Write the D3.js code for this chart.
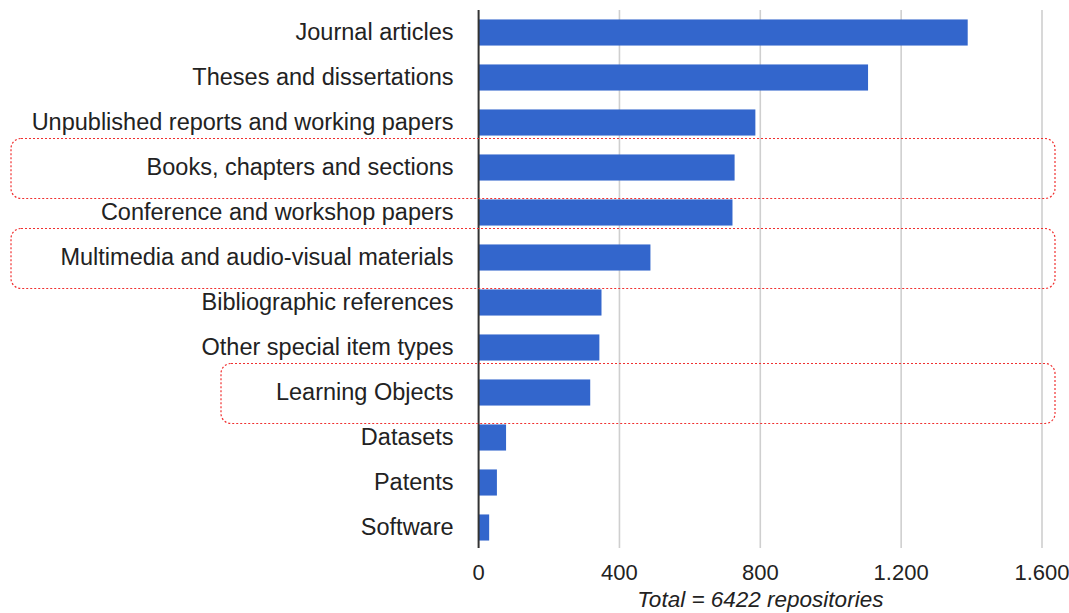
<!DOCTYPE html>
<html lang="en">
<head>
  <meta charset="UTF-8">
  <title>Item types</title>
  <script src="https://d3js.org/d3.v7.min.js"></script>
  <style>
    body { margin: 0; background: #fff; }
    text { font-family: "Liberation Sans", Arial, sans-serif; fill: #222; }
  </style>
</head>
<body>
  <div id="chart"></div>

  <script>
    const categories = [
      "Journal articles",
      "Theses and dissertations",
      "Unpublished reports and working papers",
      "Books, chapters and sections",
      "Conference and workshop papers",
      "Multimedia and audio-visual materials",
      "Bibliographic references",
      "Other special item types",
      "Learning Objects",
      "Datasets",
      "Patents",
      "Software"
    ];
    const counts = [1389, 1106, 786, 727, 721, 488, 349, 343, 317, 78, 52, 30];
    const tickValues = [0, 400, 800, 1200, 1600];
    const axisTitle = "Total = 6422 repositories";
    // highlighted rows (dotted boxes) and where each box starts on the left
    const highlighted = ["Books, chapters and sections", "Multimedia and audio-visual materials", "Learning Objects"];
    const highlightLeft = [11, 11, 221];

    const width = 1069, height = 613;
    const margin = { top: 10, right: 27, bottom: 63, left: 478.6 };

    const svg = d3.select("#chart").append("svg")
      .attr("width", width)
      .attr("height", height);

    const x = d3.scaleLinear()
      .domain([0, 1600])
      .range([margin.left, width - margin.right]);

    const y = d3.scaleBand()
      .domain(categories)
      .range([margin.top, height - margin.bottom])
      .paddingInner(0.42)
      .paddingOuter(0.21);

    const fmt = d3.formatLocale({ decimal: ",", thousands: ".", grouping: [3], currency: ["", ""] }).format(",d");

    // gridlines
    svg.selectAll(".grid")
      .data(tickValues.slice(1))
      .enter()
      .append("line")
      .attr("x1", d => x(d))
      .attr("x2", d => x(d))
      .attr("y1", margin.top)
      .attr("y2", height - margin.bottom - 2)
      .attr("stroke", "#cfcfcf")
      .attr("stroke-width", 1.6);

    // bars
    svg.selectAll(".bar")
      .data(categories)
      .enter()
      .append("rect")
      .attr("x", x(0))
      .attr("y", d => y(d))
      .attr("width", (d, i) => x(counts[i]) - x(0))
      .attr("height", y.bandwidth())
      .attr("fill", "#3366cc");

    // baseline
    svg.append("line")
      .attr("x1", x(0))
      .attr("x2", x(0))
      .attr("y1", margin.top)
      .attr("y2", height - margin.bottom - 2)
      .attr("stroke", "#333")
      .attr("stroke-width", 2);

    // category labels
    svg.selectAll(".cat")
      .data(categories)
      .enter()
      .append("text")
      .attr("x", x(0) - 25)
      .attr("y", d => y(d) + y.bandwidth() / 2)
      .attr("dy", "0.33em")
      .attr("text-anchor", "end")
      .attr("font-size", "23.5px")
      .text(d => d);

    // tick labels
    svg.selectAll(".tick-label")
      .data(tickValues)
      .enter()
      .append("text")
      .attr("x", d => x(d))
      .attr("y", 580)
      .attr("text-anchor", "middle")
      .attr("font-size", "22px")
      .attr("fill", "#444")
      .text(d => fmt(d));

    svg.append("text")
      .attr("x", (x(0) + x(1600)) / 2)
      .attr("y", 607)
      .attr("text-anchor", "middle")
      .attr("font-size", "22.5px")
      .attr("font-style", "italic")
      .attr("fill", "#333")
      .text(axisTitle);

    // dotted highlight boxes
    svg.selectAll(".hl")
      .data(highlighted)
      .enter()
      .append("rect")
      .attr("x", (d, i) => highlightLeft[i])
      .attr("y", d => y(d) + y.bandwidth() / 2 - 29)
      .attr("width", (d, i) => x(1600) + 13 - highlightLeft[i])
      .attr("height", 60)
      .attr("rx", 10)
      .attr("fill", "none")
      .attr("stroke", "#f03030")
      .attr("stroke-width", 1.2)
      .attr("stroke-dasharray", "2,2");
  </script>
</body>
</html>
